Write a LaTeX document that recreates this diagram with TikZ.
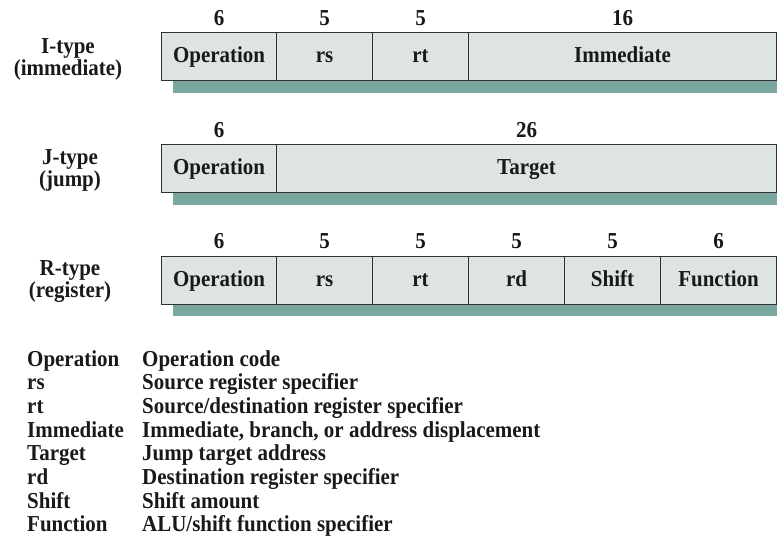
\documentclass[tikz,border=0pt]{standalone}
\usepackage{fontspec}
\setmainfont{Liberation Serif}[FakeStretch=0.92]
\definecolor{fieldfill}{RGB}{222,228,228}
\definecolor{shadowc}{RGB}{122,168,160}
\definecolor{edgec}{RGB}{50,50,50}
\begin{document}
\begin{tikzpicture}[x=1pt,y=-1pt,
  every node/.style={font=\fontsize{22.8}{22}\selectfont\bfseries, text=black!90},
  field/.style={draw=edgec, line width=1.1pt, fill=fieldfill, minimum height=48pt, inner sep=0pt, text height=16pt, text depth=4pt, anchor=north west},
  bits/.style={anchor=center},
  typelabel/.style={align=center, anchor=center},
  legend/.style={anchor=base west, inner sep=0pt}]
\useasboundingbox (0,0) rectangle (777,538);
% shadows
\fill[shadowc] (173,80) rectangle (777,92.5);
\fill[shadowc] (173,192) rectangle (777,204.5);
\fill[shadowc] (173,303.5) rectangle (777,316);
% I-type
\node[field, minimum width=115pt] (iop) at (161,32) {Operation};
\node[field, minimum width=96pt] (irs) at (276,32) {rs};
\node[field, minimum width=96pt] (irt) at (372,32) {rt};
\node[field, minimum width=308pt] (iim) at (468,32) {Immediate};
\node[bits] (ib1) at (iop.center |- 0,18) {6};
\node[bits] (ib2) at (irs.center |- 0,18) {5};
\node[bits] (ib3) at (irt.center |- 0,18) {5};
\node[bits] (ib4) at (iim.center |- 0,18) {16};
\node[typelabel] (ilab) at (68,59) {I-type\\(immediate)};
% J-type
\node[field, minimum width=115pt] (jop) at (161,144) {Operation};
\node[field, minimum width=500pt] (jtg) at (276,144) {Target};
\node[bits] (jb1) at (jop.center |- 0,130) {6};
\node[bits] (jb2) at (jtg.center |- 0,130) {26};
\node[typelabel] (jlab) at (70,170) {J-type\\(jump)};
% R-type
\node[field, minimum width=115pt] (rop) at (161,255.5) {Operation};
\node[field, minimum width=96pt] (rrs) at (276,255.5) {rs};
\node[field, minimum width=96pt] (rrt) at (372,255.5) {rt};
\node[field, minimum width=96pt] (rrd) at (468,255.5) {rd};
\node[field, minimum width=96pt] (rsh) at (564,255.5) {Shift};
\node[field, minimum width=116pt] (rfn) at (660,255.5) {Function};
\node[bits] (rb1) at (rop.center |- 0,241.5) {6};
\node[bits] (rb2) at (rrs.center |- 0,241.5) {5};
\node[bits] (rb3) at (rrt.center |- 0,241.5) {5};
\node[bits] (rb4) at (rrd.center |- 0,241.5) {5};
\node[bits] (rb5) at (rsh.center |- 0,241.5) {5};
\node[bits] (rb6) at (rfn.center |- 0,241.5) {6};
\node[typelabel] (rlab) at (70,282) {R-type\\(register)};
% legend
\node[legend] (l1a) at (27,366) {Operation};   \node[legend] (l1b) at (142,366) {Operation code};
\node[legend] (l2a) at (27,389.7) {rs};        \node[legend] (l2b) at (142,389.7) {Source register specifier};
\node[legend] (l3a) at (27,413.4) {rt};        \node[legend] (l3b) at (142,413.4) {Source/destination register specifier};
\node[legend] (l4a) at (27,437.1) {Immediate}; \node[legend] (l4b) at (142,437.1) {Immediate, branch, or address displacement};
\node[legend] (l5a) at (27,460.8) {Target};    \node[legend] (l5b) at (142,460.8) {Jump target address};
\node[legend] (l6a) at (27,484.5) {rd};        \node[legend] (l6b) at (142,484.5) {Destination register specifier};
\node[legend] (l7a) at (27,508.2) {Shift};     \node[legend] (l7b) at (142,508.2) {Shift amount};
\node[legend] (l8a) at (27,531.9) {Function};  \node[legend] (l8b) at (142,531.9) {ALU/shift function specifier};
\end{tikzpicture}
\end{document}
